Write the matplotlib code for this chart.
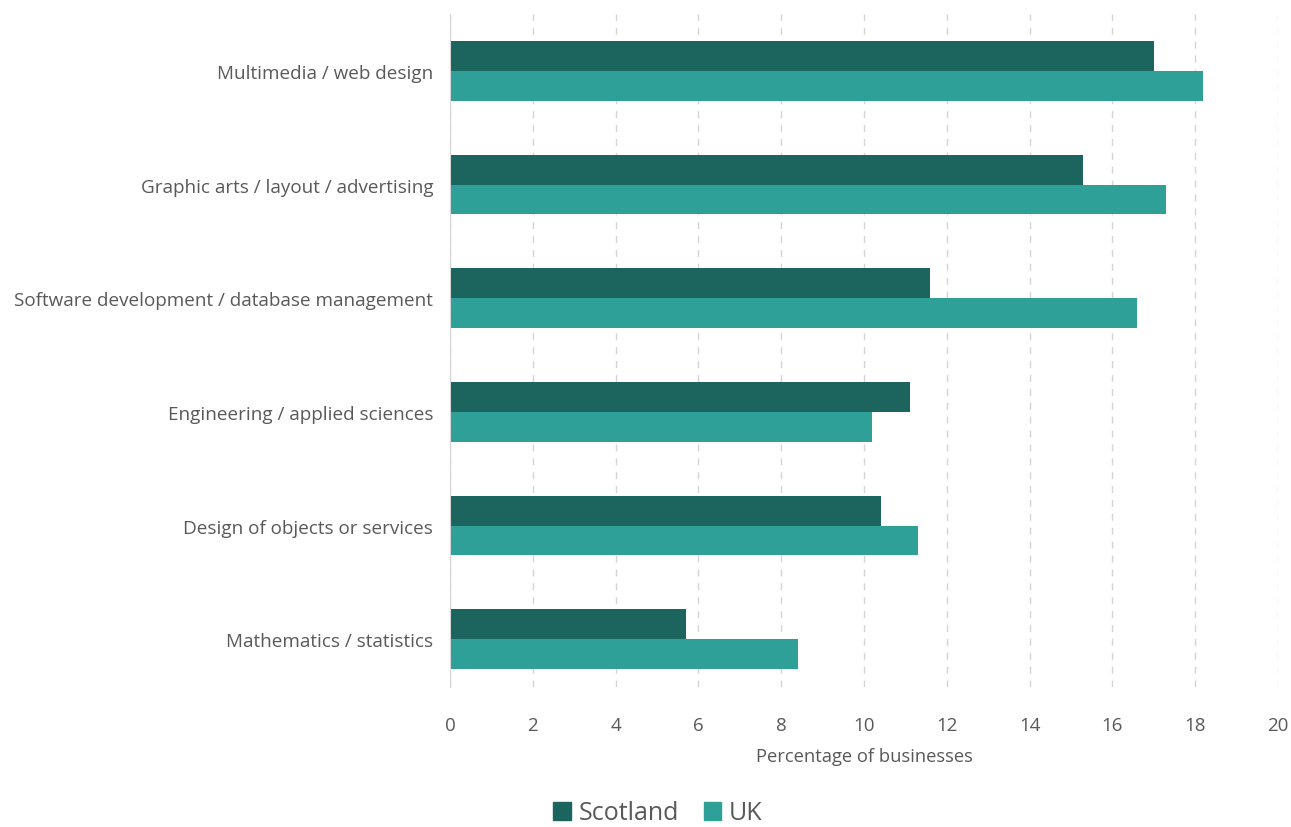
import matplotlib.pyplot as plt
from matplotlib.patches import Patch
import numpy as np

categories = ["Multimedia / web design", "Graphic arts / layout / advertising",
              "Software development / database management", "Engineering / applied sciences",
              "Design of objects or services", "Mathematics / statistics"]
scotland = [17.0, 15.3, 11.6, 11.1, 10.4, 5.7]
uk = [18.2, 17.3, 16.6, 10.2, 11.3, 8.4]
xticks = [0, 2, 4, 6, 8, 10, 12, 14, 16, 18, 20]

dark = "#1c645e"
light = "#2ea097"
grey = "#595959"

plt.rcParams['font.family'] = ['Open Sans', 'DejaVu Sans']

fig = plt.figure(figsize=(12.91, 8.28), dpi=100)
ax = fig.add_axes([450 / 1291, 1 - 688 / 828, 828 / 1291, 673 / 828])

y = np.arange(len(categories))
h = 0.263
ax.barh(y - h / 2, scotland, height=h, color=dark, zorder=3)
ax.barh(y + h / 2, uk, height=h, color=light, zorder=3)

ax.set_ylim(5.42, -0.5)
ax.set_xlim(0, 20)
ax.set_xticks(xticks)
ax.set_yticks(y)
ax.set_yticklabels(categories)
ax.tick_params(axis='both', length=0, colors=grey)
ax.tick_params(axis='x', pad=21, labelsize=13.5)
ax.tick_params(axis='y', pad=12, labelsize=13.6)
ax.xaxis.grid(True, color="#d4d4d4", linestyle=(0, (5, 5)), linewidth=1, zorder=0)
for s in ['top', 'right', 'bottom']:
    ax.spines[s].set_visible(False)
ax.spines['left'].set_color("#d4d4d4")
ax.spines['left'].set_zorder(4)
ax.set_xlabel("Percentage of businesses", color=grey, fontsize=13.2, labelpad=9)

handles = [Patch(color=dark, label="Scotland"), Patch(color=light, label="UK")]
fig.legend(handles=handles, loc='center', bbox_to_anchor=(658 / 1291, 1 - 814 / 828),
           ncol=2, frameon=False, fontsize=18, labelcolor=grey,
           handlelength=0.7, handleheight=0.7, handletextpad=0.3, columnspacing=1.0)

fig.savefig("out.png", dpi=100)
